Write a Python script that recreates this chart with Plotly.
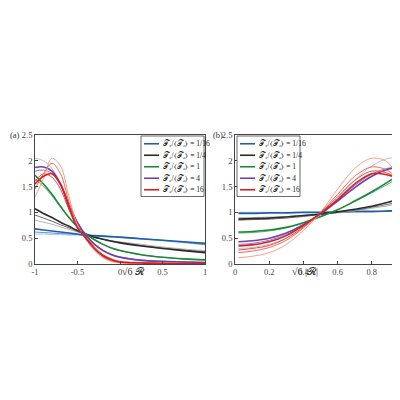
import plotly.graph_objects as go

xa = [-1, -0.9, -0.8, -0.7, -0.6, -0.5, -0.4, -0.3, -0.2, -0.1, 0, 0.25, 0.5, 0.75, 1]
a_blue = [
    [0.68,0.66,0.64,0.62,0.60,0.58,0.56,0.55,0.54,0.53,0.52,0.49,0.46,0.43,0.40],
    [0.62,0.61,0.60,0.59,0.58,0.57,0.56,0.55,0.54,0.53,0.52,0.49,0.46,0.42,0.38],
    [0.58,0.58,0.57,0.57,0.56,0.56,0.55,0.54,0.53,0.52,0.51,0.48,0.45,0.41,0.37]]
a_black = [
    [1.07,0.98,0.90,0.81,0.73,0.65,0.58,0.52,0.48,0.44,0.41,0.35,0.30,0.26,0.22],
    [0.95,0.89,0.83,0.76,0.70,0.63,0.57,0.52,0.48,0.45,0.42,0.36,0.31,0.27,0.24],
    [0.85,0.81,0.77,0.72,0.67,0.62,0.57,0.52,0.48,0.45,0.43,0.38,0.33,0.29,0.26]]
a_green = [
    [1.72,1.55,1.35,1.12,0.90,0.72,0.58,0.47,0.38,0.31,0.26,0.18,0.13,0.10,0.08],
    [1.65,1.50,1.32,1.10,0.89,0.72,0.58,0.47,0.38,0.31,0.26,0.18,0.13,0.10,0.08]]
a_purple = [
    [1.87,1.88,1.80,1.55,1.15,0.80,0.55,0.38,0.26,0.18,0.13,0.07,0.05,0.04,0.03],
    [1.80,1.82,1.75,1.52,1.15,0.81,0.56,0.39,0.27,0.19,0.14,0.08,0.05,0.04,0.03],
    [2.05,2.00,1.85,1.55,1.12,0.78,0.55,0.38,0.26,0.18,0.13,0.07,0.05,0.04,0.03]]
a_red = [
    [1.55,1.70,1.75,1.55,1.10,0.70,0.50,0.30,0.16,0.08,0.04,0.02,0.01,0.01,0.01],
    [1.45,1.75,1.95,1.75,1.20,0.72,0.48,0.28,0.14,0.06,0.03,0.02,0.01,0.01,0.01],
    [1.30,1.65,2.05,1.90,1.30,0.75,0.47,0.26,0.12,0.05,0.02,0.01,0.01,0.01,0.01],
    [1.60,1.75,1.68,1.45,1.05,0.70,0.52,0.33,0.18,0.10,0.05,0.03,0.02,0.01,0.01]]

xb = [0.02, 0.1, 0.2, 0.3, 0.4, 0.5, 0.6, 0.7, 0.8, 0.9, 0.98]
b_blue = [
    [0.98,0.98,0.99,0.99,1.00,1.00,1.01,1.02,1.02,1.03,1.04],
    [1.00,1.00,1.00,1.00,1.00,1.00,1.00,1.01,1.01,1.02,1.02]]
b_black = [
    [0.87,0.88,0.89,0.91,0.94,0.97,1.01,1.06,1.12,1.20,1.28],
    [0.85,0.86,0.87,0.89,0.92,0.96,1.00,1.04,1.10,1.16,1.22],
    [0.90,0.90,0.91,0.92,0.94,0.96,0.99,1.03,1.08,1.13,1.18]]
b_green = [
    [0.62,0.63,0.66,0.71,0.80,0.92,1.05,1.22,1.40,1.60,1.78],
    [0.60,0.61,0.64,0.70,0.79,0.91,1.05,1.21,1.38,1.56,1.72]]
b_purple = [
    [0.43,0.45,0.50,0.60,0.76,0.97,1.22,1.48,1.70,1.84,1.87],
    [0.38,0.40,0.46,0.57,0.74,0.97,1.24,1.52,1.74,1.86,1.85],
    [0.30,0.32,0.38,0.50,0.70,0.96,1.28,1.62,1.90,2.05,2.05]]
b_red = [
    [0.35,0.37,0.43,0.55,0.75,0.98,1.25,1.55,1.75,1.72,1.62],
    [0.22,0.25,0.32,0.46,0.70,1.00,1.35,1.70,1.88,1.80,1.55],
    [0.12,0.15,0.22,0.38,0.65,1.00,1.45,1.85,2.05,1.95,1.35],
    [0.27,0.30,0.36,0.50,0.72,0.99,1.30,1.62,1.80,1.75,1.60]]

labels = ["𝒯₂/⟨𝒯₂⟩ = 1/16", "𝒯₂/⟨𝒯₂⟩ = 1/4", "𝒯₂/⟨𝒯₂⟩ = 1", "𝒯₂/⟨𝒯₂⟩ = 4", "𝒯₂/⟨𝒯₂⟩ = 16"]
shades = [
    ["#1f5fa8", "#5b93cc", "#a9c8e8", "#7fb0dc"],
    ["#2b2b2b", "#6b6b6b", "#b5b5b5", "#909090"],
    ["#1a8a3a", "#5fb377", "#9fd1ab", "#7fc190"],
    ["#6a3fb0", "#9677cc", "#c7b8e6", "#b0a0da"],
    ["#d62020", "#f06a4e", "#f7a08a", "#e84a3a"]]

fig = go.Figure()
for x, fams, xr, yr in [
        (xa, [a_blue, a_black, a_green, a_purple, a_red], "x", "y"),
        (xb, [b_blue, b_black, b_green, b_purple, b_red], "x2", "y2")]:
    for fi, fam in enumerate(fams):
        for ci in range(len(fam) - 1, -1, -1):
            fig.add_trace(go.Scatter(
                x=x, y=fam[ci], mode="lines", xaxis=xr, yaxis=yr,
                line=dict(color=shades[fi][ci], width=1.6 if ci == 0 else 1.0, shape="spline"),
                name=labels[fi], showlegend=False))

# custom compact legends (paper coordinates, pixels / 400)
shapes, anns = [], []
def legend(x0, x1, ytop):
    rows = 5
    h = 11.5
    y0 = ytop
    shapes.append(dict(type="rect", xref="paper", yref="paper", x0=x0/400, x1=x1/400,
                       y0=1-(y0+rows*h+3)/400, y1=1-y0/400, line=dict(color="#444", width=0.8),
                       fillcolor="white", layer="above"))
    for i in range(rows):
        yc = y0 + 2 + h*(i+0.5)
        shapes.append(dict(type="line", xref="paper", yref="paper", x0=(x0+3)/400, x1=(x0+18)/400,
                           y0=1-yc/400, y1=1-yc/400, line=dict(color=shades[i][0], width=1.6),
                           layer="above"))
        anns.append(dict(text=labels[i], x=(x0+20)/400, y=1-yc/400, xref="paper", yref="paper",
                         showarrow=False, xanchor="left", yanchor="middle",
                         font=dict(size=7.5, family="Liberation Serif", color="#222")))
legend(133, 196, 128)
legend(229, 292, 128)

font = dict(family="Liberation Serif", size=9, color="#333")
ax = dict(showgrid=False, zeroline=False, showline=True, mirror=True, linecolor="#444",
          linewidth=0.8, ticks="inside", ticklen=3, automargin=False,
          tickfont=dict(size=8.5, color="#444"))
fig.update_layout(
    width=400, height=400, margin=dict(l=0, r=0, t=0, b=0, pad=0, autoexpand=False),
    plot_bgcolor="white", paper_bgcolor="white", font=font, showlegend=False,
    xaxis=dict(domain=[0.0675, 0.4925], range=[-1, 1], tickvals=[-1, -0.5, 0, 0.5, 1],
               ticktext=["-1", "-0.5", "0", "0.5", "1"], **ax),
    yaxis=dict(domain=[0.36, 0.6825], range=[0, 2.5], dtick=0.5, **ax),
    xaxis2=dict(domain=[0.5675, 0.995], range=[0, 1], dtick=0.2, anchor="y2", **ax),
    yaxis2=dict(domain=[0.36, 0.6825], range=[0, 2.5], dtick=0.5, anchor="x2", **ax),
    shapes=shapes,
    annotations=anns + [
        dict(text="(a)", x=0.0, y=0.683, xref="paper", yref="paper", showarrow=False,
             xanchor="left", yanchor="middle", font=dict(size=8.5)),
        dict(text="(b)", x=0.508, y=0.683, xref="paper", yref="paper", showarrow=False,
             xanchor="left", yanchor="middle", font=dict(size=8.5)),
        dict(text="√6 𝓡", x=0.28, y=0.322, xref="paper", yref="paper", showarrow=False,
             font=dict(size=10)),
        dict(text="√6 |𝓡|", x=0.78, y=0.322, xref="paper", yref="paper", showarrow=False,
             font=dict(size=10))])
fig.write_html("out.html")
